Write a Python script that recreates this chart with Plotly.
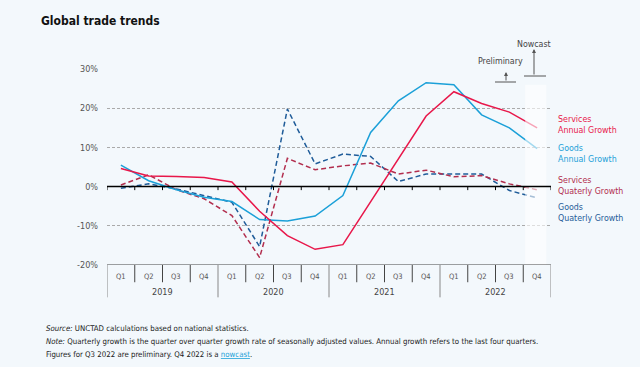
import plotly.graph_objects as go

quarters = ["Q1", "Q2", "Q3", "Q4"] * 4
years = ["2019", "2020", "2021", "2022"]

services_annual = [4.6, 2.7, 2.6, 2.3, 1.2, -6.3, -12.5, -16.0, -14.8, -3.9, 7.0, 18.0, 24.2, 21.2, 19.0, 15.0]
goods_annual = [5.5, 1.5, -0.8, -2.7, -3.8, -8.4, -8.8, -7.5, -2.3, 13.8, 21.9, 26.5, 26.0, 18.3, 15.0, 9.7]
services_quarterly = [0.4, 3.0, -0.8, -3.1, -7.4, -18.1, 7.2, 4.3, 5.3, 6.0, 3.2, 4.2, 2.5, 2.8, 0.7, -0.8]
goods_quarterly = [-0.4, 0.7, -0.6, -2.3, -4.0, -15.3, 19.8, 5.8, 8.3, 7.7, 1.3, 3.2, 3.2, 3.2, -1.0, -2.9]

y_ticks = [-20, -10, 0, 10, 20, 30]
y_labels = ["-20%", "-10%", "0%", "10%", "20%", "30%"]

C_SA = "#E8174A"
C_GA = "#1BA0D8"
C_SQ = "#B22E4E"
C_GQ = "#1F5C99"
FONT = "DejaVu Sans Condensed, Liberation Sans Narrow, Arial Narrow, sans-serif"
GRAY = "#555555"

x = list(range(len(quarters)))

fig = go.Figure()
fig.add_trace(go.Scatter(x=x, y=goods_quarterly, mode="lines",
                         line=dict(color=C_GQ, width=1.5, dash="5px,3px")))
fig.add_trace(go.Scatter(x=x, y=services_quarterly, mode="lines",
                         line=dict(color=C_SQ, width=1.5, dash="5px,3px")))
fig.add_trace(go.Scatter(x=x, y=goods_annual, mode="lines",
                         line=dict(color=C_GA, width=1.5)))
fig.add_trace(go.Scatter(x=x, y=services_annual, mode="lines",
                         line=dict(color=C_SA, width=1.5)))


def px_x(px):
    return (px - 107) / 444.0


def px_y(py):
    return (265 - py) / 196.0


shapes = []
# nowcast band (fades the last segment)
shapes.append(dict(type="rect", xref="x", yref="y", x0=14.57, x1=15.33, y0=-20, y1=26,
                   fillcolor="white", opacity=0.6, line=dict(width=0), layer="above"))
# zero line with quarter ticks
shapes.append(dict(type="line", xref="x", yref="y", x0=-0.5, x1=15.5, y0=0, y1=0,
                   line=dict(color="black", width=1.5), layer="above"))
for i in range(17):
    b = i - 0.5
    shapes.append(dict(type="line", xref="x", yref="y", x0=b, x1=b, y0=0, y1=-0.9,
                       line=dict(color="black", width=1), layer="above"))
# bottom category box
shapes.append(dict(type="line", xref="x", yref="y", x0=-0.5, x1=15.65, y0=-20, y1=-20,
                   line=dict(color="#444444", width=1.2)))
for i in range(17):
    b = i - 0.5
    is_year = (i % 4 == 0)
    shapes.append(dict(type="line", xref="x", yref="paper", x0=b, x1=b, y0=0,
                       y1=-0.165 if is_year else -0.088,
                       line=dict(color="#888888" if is_year else "#444444", width=1)))

# preliminary / nowcast markers
shapes.append(dict(type="line", xref="paper", yref="paper", x0=px_x(495), x1=px_x(516),
                   y0=px_y(82), y1=px_y(82), line=dict(color=GRAY, width=1)))
shapes.append(dict(type="line", xref="paper", yref="paper", x0=px_x(524), x1=px_x(546),
                   y0=px_y(76), y1=px_y(76), line=dict(color=GRAY, width=1)))

annotations = []
for i, q in enumerate(quarters):
    annotations.append(dict(x=i, y=px_y(276), xref="x", yref="paper", text=q, showarrow=False,
                            font=dict(family=FONT, size=7.5, color=GRAY), yanchor="middle"))
for j, yr in enumerate(years):
    annotations.append(dict(x=4 * j + 1.5, y=px_y(292), xref="x", yref="paper", text=yr,
                            showarrow=False, font=dict(family=FONT, size=9, color="#444444"),
                            yanchor="middle"))

# arrows
annotations.append(dict(x=px_x(506), y=px_y(72), xref="paper", yref="paper", text="",
                        showarrow=True, ax=0, ay=10, arrowhead=2, arrowsize=0.8, arrowwidth=1,
                        arrowcolor=GRAY))
annotations.append(dict(x=px_x(534), y=px_y(49), xref="paper", yref="paper", text="",
                        showarrow=True, ax=0, ay=27, arrowhead=2, arrowsize=0.8, arrowwidth=1,
                        arrowcolor=GRAY))
annotations.append(dict(x=px_x(500), y=px_y(61), xref="paper", yref="paper", text="Preliminary",
                        showarrow=False, font=dict(family=FONT, size=8.8, color="#444444"),
                        xanchor="center", yanchor="middle"))
annotations.append(dict(x=px_x(534), y=px_y(44), xref="paper", yref="paper", text="Nowcast",
                        showarrow=False, font=dict(family=FONT, size=8.8, color="#444444"),
                        xanchor="center", yanchor="middle"))

# series labels
labels = [("Services<br>Annual Growth", C_SA, 124), ("Goods<br>Annual Growth", C_GA, 153),
          ("Services<br>Quaterly Growth", C_SQ, 185.5), ("Goods<br>Quaterly Growth", C_GQ, 212)]
for txt, col, py in labels:
    annotations.append(dict(x=px_x(556), y=px_y(py), xref="paper", yref="paper", text=txt,
                            showarrow=False, align="left", xanchor="left", yanchor="middle",
                            font=dict(family=FONT, size=8.8, color=col)))

# title
annotations.append(dict(x=px_x(39), y=px_y(21), xref="paper", yref="paper",
                        text="<b>Global trade trends</b>", showarrow=False, xanchor="left",
                        yanchor="middle", font=dict(family=FONT, size=12, color="#111111")))

# footer
foot = [("<i>Source:</i> UNCTAD calculations based on national statistics.", 328),
        ("<i>Note:</i> Quarterly growth is the quarter over quarter growth rate of seasonally adjusted values. "
         "Annual growth refers to the last four quarters.", 341),
        ("Figures for Q3 2022 are preliminary. Q4 2022 is a "
         "<span style='color:#1BA0D8;text-decoration:underline'>nowcast</span>.", 354)]
for txt, py in foot:
    annotations.append(dict(x=px_x(44), y=px_y(py), xref="paper", yref="paper", text=txt,
                            showarrow=False, xanchor="left", yanchor="middle",
                            font=dict(family=FONT, size=7.8, color="#1A1A1A")))

fig.update_layout(
    width=640, height=367, autosize=False,
    margin=dict(l=107, r=89, t=69, b=102),
    paper_bgcolor="#F3F8FC", plot_bgcolor="#F3F8FC",
    showlegend=False,
    shapes=shapes, annotations=annotations,
    xaxis=dict(range=[-0.5, 15.5], showgrid=False, zeroline=False, showticklabels=False,
               showline=False, fixedrange=True),
    yaxis=dict(range=[-20, 30], tickvals=y_ticks, ticktext=y_labels, showgrid=True,
               gridcolor="#AAAAAA", griddash="3px,2px", gridwidth=1, zeroline=False,
               showline=False, ticklabelstandoff=8,
               tickfont=dict(family=FONT, size=9, color=GRAY)),
)

fig.write_html("out.html", config={"displayModeBar": False},
               post_script="document.body.style.margin='0';")
